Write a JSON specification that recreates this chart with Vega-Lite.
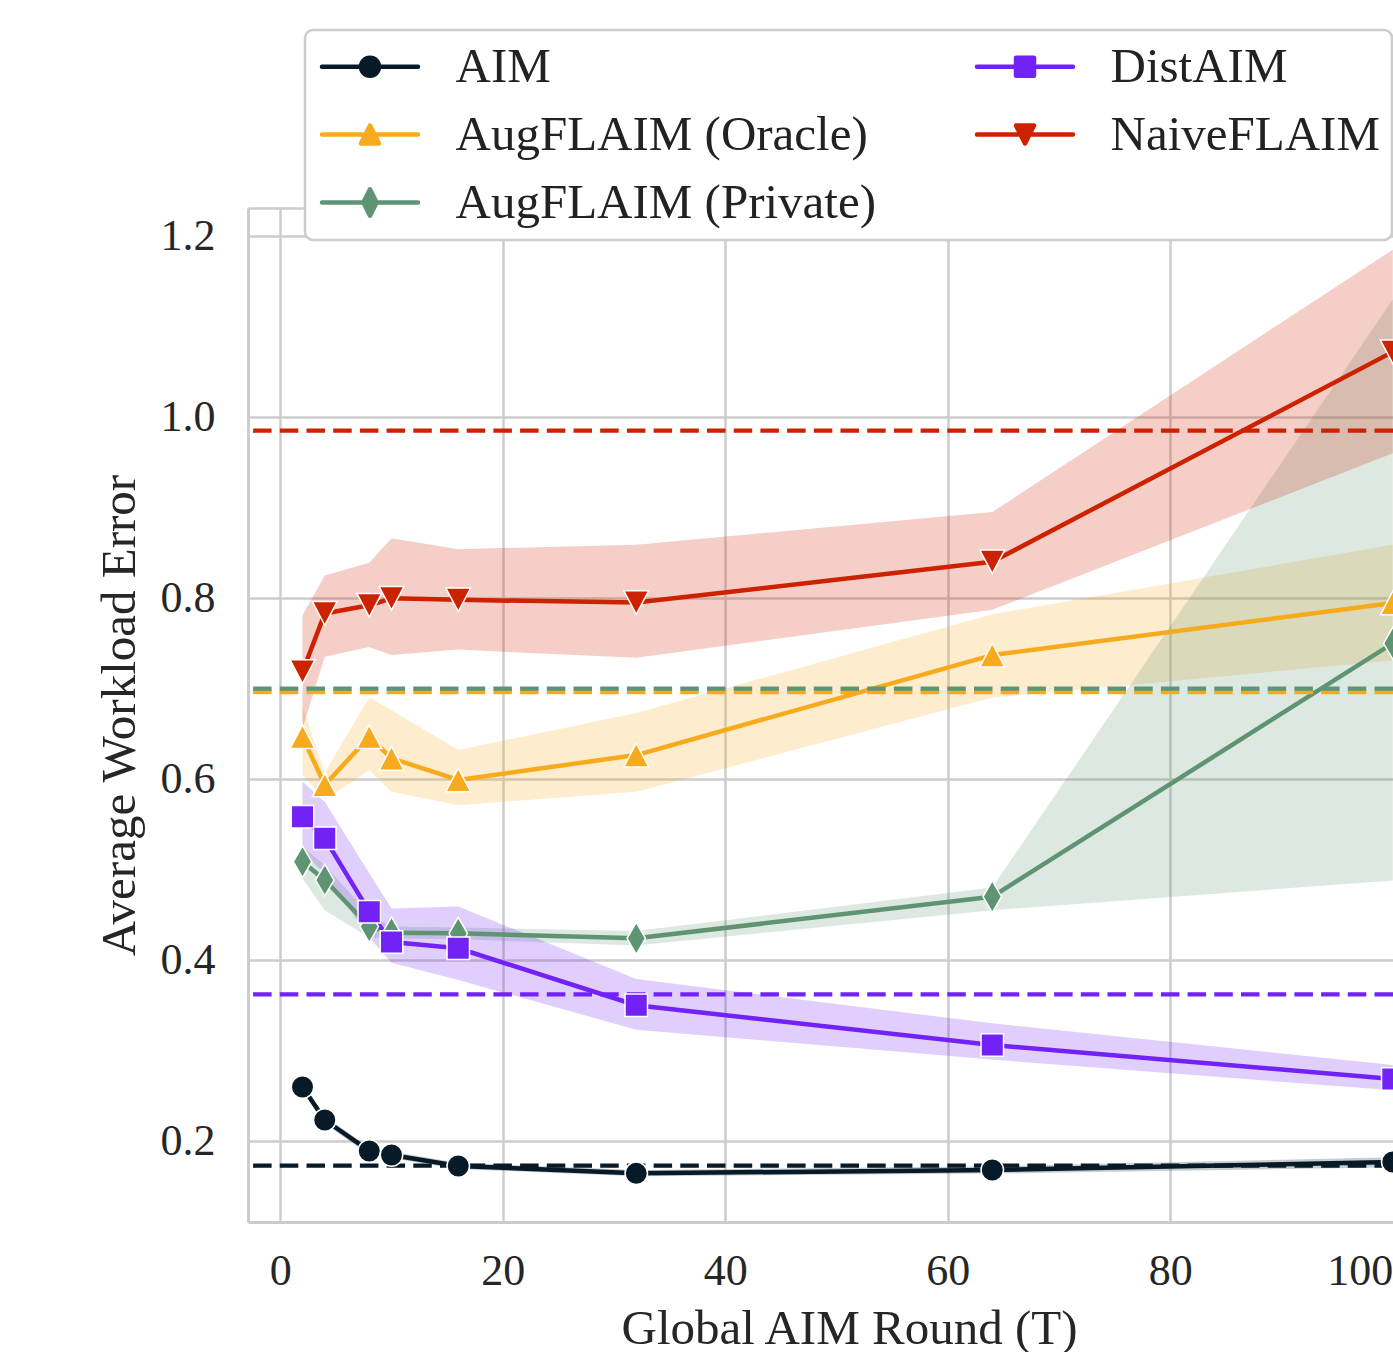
{
  "$schema": "https://vega.github.io/schema/vega-lite/v6.json",
  "autosize": {"type": "none"},
  "padding": {"left": 248, "top": 208, "right": 0, "bottom": 130},
  "width": 1145,
  "height": 1014,
  "background": "#ffffff",
  "config": {"view": {"stroke": null}},
  "datasets": {
    "series": [
      {"method": "AIM", "T": 2, "y": 0.2597, "lo": 0.2557, "hi": 0.2637},
      {"method": "AIM", "T": 4, "y": 0.2232, "lo": 0.219, "hi": 0.227},
      {"method": "AIM", "T": 8, "y": 0.189, "lo": 0.185, "hi": 0.193},
      {"method": "AIM", "T": 10, "y": 0.1845, "lo": 0.181, "hi": 0.188},
      {"method": "AIM", "T": 16, "y": 0.1724, "lo": 0.169, "hi": 0.176},
      {"method": "AIM", "T": 32, "y": 0.1643, "lo": 0.161, "hi": 0.168},
      {"method": "AIM", "T": 64, "y": 0.168, "lo": 0.164, "hi": 0.172},
      {"method": "AIM", "T": 100, "y": 0.1768, "lo": 0.171, "hi": 0.182},
      {"method": "AugFLAIM (Oracle)", "T": 2, "y": 0.6467, "lo": 0.605, "hi": 0.68},
      {"method": "AugFLAIM (Oracle)", "T": 4, "y": 0.5934, "lo": 0.577, "hi": 0.607},
      {"method": "AugFLAIM (Oracle)", "T": 8, "y": 0.6467, "lo": 0.61, "hi": 0.69},
      {"method": "AugFLAIM (Oracle)", "T": 10, "y": 0.6229, "lo": 0.586, "hi": 0.676},
      {"method": "AugFLAIM (Oracle)", "T": 16, "y": 0.599, "lo": 0.571, "hi": 0.632},
      {"method": "AugFLAIM (Oracle)", "T": 32, "y": 0.6265, "lo": 0.586, "hi": 0.673},
      {"method": "AugFLAIM (Oracle)", "T": 64, "y": 0.737, "lo": 0.69, "hi": 0.782},
      {"method": "AugFLAIM (Oracle)", "T": 100, "y": 0.7945, "lo": 0.731, "hi": 0.859},
      {"method": "AugFLAIM (Private)", "T": 2, "y": 0.5086, "lo": 0.49, "hi": 0.525},
      {"method": "AugFLAIM (Private)", "T": 4, "y": 0.4884, "lo": 0.455, "hi": 0.505},
      {"method": "AugFLAIM (Private)", "T": 8, "y": 0.437, "lo": 0.425, "hi": 0.45},
      {"method": "AugFLAIM (Private)", "T": 10, "y": 0.43, "lo": 0.424, "hi": 0.437},
      {"method": "AugFLAIM (Private)", "T": 16, "y": 0.4295, "lo": 0.423, "hi": 0.436},
      {"method": "AugFLAIM (Private)", "T": 32, "y": 0.424, "lo": 0.416, "hi": 0.432},
      {"method": "AugFLAIM (Private)", "T": 64, "y": 0.47, "lo": 0.455, "hi": 0.48},
      {"method": "AugFLAIM (Private)", "T": 100, "y": 0.75, "lo": 0.488, "hi": 1.13},
      {"method": "DistAIM", "T": 2, "y": 0.5583, "lo": 0.52, "hi": 0.597},
      {"method": "DistAIM", "T": 4, "y": 0.5345, "lo": 0.495, "hi": 0.575},
      {"method": "DistAIM", "T": 8, "y": 0.4534, "lo": 0.425, "hi": 0.496},
      {"method": "DistAIM", "T": 10, "y": 0.42, "lo": 0.397, "hi": 0.457},
      {"method": "DistAIM", "T": 16, "y": 0.413, "lo": 0.378, "hi": 0.459},
      {"method": "DistAIM", "T": 32, "y": 0.35, "lo": 0.323, "hi": 0.379},
      {"method": "DistAIM", "T": 64, "y": 0.306, "lo": 0.29, "hi": 0.33},
      {"method": "DistAIM", "T": 100, "y": 0.2685, "lo": 0.256, "hi": 0.284},
      {"method": "NaiveFLAIM", "T": 2, "y": 0.7186, "lo": 0.656, "hi": 0.781},
      {"method": "NaiveFLAIM", "T": 4, "y": 0.783, "lo": 0.735, "hi": 0.825},
      {"method": "NaiveFLAIM", "T": 8, "y": 0.792, "lo": 0.746, "hi": 0.839},
      {"method": "NaiveFLAIM", "T": 10, "y": 0.7997, "lo": 0.737, "hi": 0.866},
      {"method": "NaiveFLAIM", "T": 16, "y": 0.798, "lo": 0.743, "hi": 0.854},
      {"method": "NaiveFLAIM", "T": 32, "y": 0.795, "lo": 0.734, "hi": 0.859},
      {"method": "NaiveFLAIM", "T": 64, "y": 0.84, "lo": 0.787, "hi": 0.895},
      {"method": "NaiveFLAIM", "T": 100, "y": 1.072, "lo": 0.96, "hi": 1.185}
    ],
    "baselines": [
      {"method": "AIM", "base": 0.1727},
      {"method": "AugFLAIM (Oracle)", "base": 0.6961},
      {"method": "AugFLAIM (Private)", "base": 0.6998},
      {"method": "DistAIM", "base": 0.3621},
      {"method": "NaiveFLAIM", "base": 0.9849}
    ]
  },
  "layer": [
    {
      "data": {"name": "series"},
      "mark": {"type": "area", "opacity": 0.22},
      "encoding": {
        "x": {"field": "T", "type": "quantitative", "scale": {"domain": [-2.9, 100.02], "nice": false, "zero": false}},
        "y": {"field": "lo", "type": "quantitative", "scale": {"domain": [0.1105, 1.231], "nice": false, "zero": false}},
        "y2": {"field": "hi"},
        "color": {"field": "method", "type": "nominal", "scale": {"domain": ["AIM", "AugFLAIM (Oracle)", "AugFLAIM (Private)", "DistAIM", "NaiveFLAIM"], "range": ["#061a27", "#f6aa1c", "#5f9473", "#7322f6", "#cc2200"]},
          "legend": {
            "title": null, "orient": "none", "legendX": 57, "legendY": -178, "columns": 2,
            "padding": 12, "rowPadding": 18, "columnPadding": 95, "symbolOffset": 28.5, "labelOffset": 61,
            "labelFont": "Liberation Serif", "labelFontSize": 49, "labelColor": "#222222", "labelLimit": 1000,
            "symbolSize": 576, "symbolStrokeWidth": 4, "symbolOpacity": 1,
            "strokeColor": "#cccccc", "fillColor": "#ffffff", "cornerRadius": 8, "zindex": 1,
            "encode": {
              "legend": {"update": {"strokeWidth": {"value": 2.5}}},
              "symbols": {"update": {
                "shape": {"signal": "datum.value === 'AIM' ? 'M-4,0H4M0.75,0A0.75,0.75 0 1,1 -0.75,0A0.75,0.75 0 1,1 0.75,0Z' : datum.value === 'DistAIM' ? 'M-4,0H4M-0.75,-0.75H0.75V0.75H-0.75Z' : datum.value === 'AugFLAIM (Oracle)' ? 'M-4,0H4M0,-0.75L0.75,0.75L-0.75,0.75Z' : datum.value === 'NaiveFLAIM' ? 'M-4,0H4M0,0.75L0.75,-0.75L-0.75,-0.75Z' : 'M-4,0H4M0,-1.1L0.55,0L0,1.1L-0.55,0Z'"},
                "fill": {"scale": "color", "field": "value"},
                "stroke": {"scale": "color", "field": "value"},
                "strokeWidth": {"value": 4.5},
                "size": {"value": 576},
                "opacity": {"value": 1},
                "fillOpacity": {"value": 1},
                "strokeOpacity": {"value": 1},
                "strokeJoin": {"value": "round"},
                "strokeCap": {"value": "round"}
              }}
            }
          }}
      }
    },
    {
      "data": {"name": "series"},
      "mark": {"type": "line", "strokeWidth": 4.5, "strokeJoin": "round"},
      "encoding": {
        "x": {"field": "T", "type": "quantitative", "scale": {"domain": [-2.9, 100.02], "nice": false, "zero": false},
          "axis": {"title": "Global AIM Round (T)", "values": [0, 20, 40, 60, 80, 100], "labelExpr": "format(datum.value, 'd')",
            "ticks": false, "tickSize": 0, "labelPadding": 27, "titlePadding": 11, "titleX": 601, "titleAlign": "center", "titleAnchor": "middle",
            "domainColor": "#cccccc", "domainWidth": 3, "grid": true, "gridWidth": 2.5,
            "gridColor": {"condition": {"test": "datum.value >= 100", "value": "transparent"}, "value": "#cccccc"},
            "labelFont": "Liberation Serif", "labelFontSize": 44, "labelColor": "#262626",
            "titleFont": "Liberation Serif", "titleFontSize": 49, "titleFontWeight": "normal", "titleColor": "#262626"}},
        "y": {"field": "y", "type": "quantitative", "scale": {"domain": [0.1105, 1.231], "nice": false, "zero": false},
          "axis": {"title": "Average Workload Error", "values": [0.2, 0.4, 0.6, 0.8, 1.0, 1.2, 1.231], "labelExpr": "datum.value > 1.21 ? '' : format(datum.value, '.1f')",
            "ticks": false, "tickSize": 0, "labelPadding": 33, "titlePadding": 16,
            "domainColor": "#cccccc", "domainWidth": 3, "grid": true, "gridWidth": 2.5, "gridColor": "#cccccc",
            "labelFont": "Liberation Serif", "labelFontSize": 44, "labelColor": "#262626",
            "titleFont": "Liberation Serif", "titleFontSize": 49, "titleFontWeight": "normal", "titleColor": "#262626"}},
        "color": {"field": "method", "type": "nominal", "scale": {"domain": ["AIM", "AugFLAIM (Oracle)", "AugFLAIM (Private)", "DistAIM", "NaiveFLAIM"], "range": ["#061a27", "#f6aa1c", "#5f9473", "#7322f6", "#cc2200"]}}
      }
    },
    {
      "data": {"name": "baselines"},
      "mark": {"type": "rule", "strokeDash": [18.5, 8.2], "strokeWidth": 4.3},
      "encoding": {
        "y": {"field": "base", "type": "quantitative", "scale": {"domain": [0.1105, 1.231], "nice": false, "zero": false}},
        "color": {"field": "method", "type": "nominal", "scale": {"domain": ["AIM", "AugFLAIM (Oracle)", "AugFLAIM (Private)", "DistAIM", "NaiveFLAIM"], "range": ["#061a27", "#f6aa1c", "#5f9473", "#7322f6", "#cc2200"]}}
      }
    },
    {
      "data": {"name": "series"},
      "transform": [{"calculate": "datum.method", "as": "marker"}],
      "mark": {"type": "point", "filled": true, "size": 560, "stroke": "#ffffff", "strokeWidth": 1.5, "opacity": 1},
      "encoding": {
        "x": {"field": "T", "type": "quantitative", "scale": {"domain": [-2.9, 100.02], "nice": false, "zero": false}},
        "y": {"field": "y", "type": "quantitative", "scale": {"domain": [0.1105, 1.231], "nice": false, "zero": false}},
        "shape": {"field": "marker", "type": "nominal", "legend": null, "scale": {"domain": ["NaiveFLAIM", "DistAIM", "AugFLAIM (Private)", "AugFLAIM (Oracle)", "AIM"],
          "range": ["M0,1L1.05,-1L-1.05,-1Z", "M-0.95,-0.95H0.95V0.95H-0.95Z", "M0,-1.35L0.78,0L0,1.35L-0.78,0Z", "M0,-1L1.05,1L-1.05,1Z", "M0.95,0A0.95,0.95 0 1,1 -0.95,0A0.95,0.95 0 1,1 0.95,0Z"]}},
        "color": {"field": "method", "type": "nominal", "scale": {"domain": ["AIM", "AugFLAIM (Oracle)", "AugFLAIM (Private)", "DistAIM", "NaiveFLAIM"], "range": ["#061a27", "#f6aa1c", "#5f9473", "#7322f6", "#cc2200"]}}
      }
    }
  ]
}
